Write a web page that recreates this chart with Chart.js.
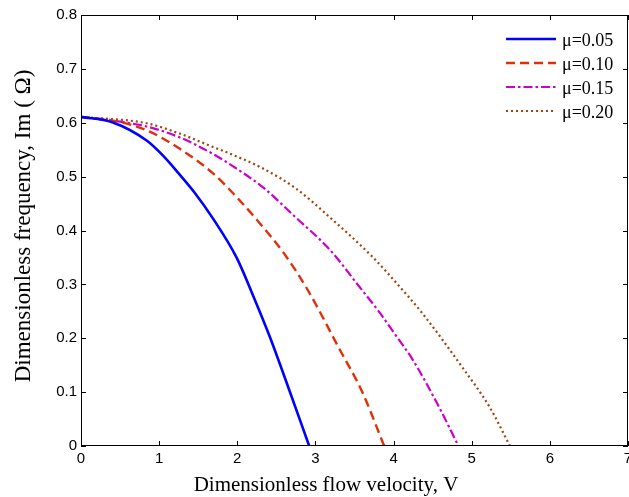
<!DOCTYPE html>
<html>
<head>
<meta charset="utf-8">
<script src="https://cdn.jsdelivr.net/npm/chart.js@4"></script>
<style>
  html, body { margin: 0; padding: 0; background: #fff; }
  #wrap { width: 629px; height: 497px; position: relative; }
</style>
</head>
<body>
<div id="wrap"><canvas id="chart"></canvas></div>
<script>
// values
const legendLabels = ["\u03bc=0.05", "\u03bc=0.10", "\u03bc=0.15", "\u03bc=0.20"];
const xTitle = "Dimensionless flow velocity, V";
const yTitle = "Dimensionless frequency, Im ( \u03a9)";

const vMu005 = [0, 0.4, 0.84, 1.05, 1.25, 1.45, 1.69, 1.99, 2.2, 2.41, 2.65, 2.92];
const imMu005 = [0.611, 0.601, 0.567, 0.539, 0.506, 0.471, 0.422, 0.35, 0.28, 0.205, 0.11, 0];

const vMu010 = [0, 0.41, 0.84, 1.26, 1.69, 2.03, 2.29, 2.6, 2.9, 3.3, 3.6, 3.88];
const imMu010 = [0.611, 0.604, 0.586, 0.552, 0.506, 0.456, 0.413, 0.357, 0.29, 0.182, 0.1, 0];

const vMu015 = [0, 0.84, 1.26, 1.69, 2.0, 2.33, 2.75, 3.18, 3.56, 3.82, 4.0, 4.25, 4.59, 4.83];
const imMu015 = [0.611, 0.593, 0.573, 0.542, 0.514, 0.48, 0.424, 0.365, 0.296, 0.248, 0.211, 0.159, 0.07, 0];

const vMu020 = [0, 0.84, 1.26, 1.69, 1.9, 2.33, 2.75, 3.18, 3.73, 4.07, 4.37, 4.88, 5.23, 5.49];
const imMu020 = [0.611, 0.599, 0.580, 0.555, 0.543, 0.515, 0.478, 0.425, 0.351, 0.297, 0.246, 0.146, 0.072, 0];

const xTicks = [0, 1, 2, 3, 4, 5, 6, 7];
const yTicks = [0, 0.1, 0.2, 0.3, 0.4, 0.5, 0.6, 0.7, 0.8];

function pares(vs, ims) {
  return vs.map((v, i) => ({ x: v, y: ims[i] }));
}

const estilos = [
  { color: "#0000ff", width: 2.6, dash: [] },
  { color: "#e0300a", width: 2.4, dash: [9, 5] },
  { color: "#cc00cc", width: 2.2, dash: [9, 3, 2.5, 3] },
  { color: "#a3430e", width: 2.2, dash: [2, 3] }
];

const series = [
  pares(vMu005, imMu005),
  pares(vMu010, imMu010),
  pares(vMu015, imMu015),
  pares(vMu020, imMu020)
];

const serif = "'Liberation Serif', 'Times New Roman', serif";

// box, inward ticks (matlab style), axis titles and the legend
const caixaPlugin = {
  id: "caixa",
  afterDraw(chart) {
    const { ctx, chartArea: a, scales } = chart;
    ctx.save();
    ctx.strokeStyle = "#000";
    ctx.lineWidth = 1;
    ctx.strokeRect(a.left + 0.5, a.top + 0.5, a.right - a.left - 1, a.bottom - a.top - 1);

    const tl = 5;
    ctx.beginPath();
    xTicks.forEach(t => {
      const px = Math.round(scales.x.getPixelForValue(t)) + 0.5;
      ctx.moveTo(px, a.bottom);
      ctx.lineTo(px, a.bottom - tl);
      ctx.moveTo(px, a.top);
      ctx.lineTo(px, a.top + tl);
    });
    yTicks.forEach(t => {
      const py = Math.round(scales.y.getPixelForValue(t)) + 0.5;
      ctx.moveTo(a.left, py);
      ctx.lineTo(a.left + tl, py);
      ctx.moveTo(a.right, py);
      ctx.lineTo(a.right - tl, py);
    });
    ctx.stroke();

    // axis titles
    ctx.fillStyle = "#000";
    ctx.textAlign = "center";
    ctx.textBaseline = "middle";
    ctx.font = `21px ${serif}`;
    ctx.fillText(xTitle, 326, 485);
    ctx.save();
    ctx.font = `23px ${serif}`;
    ctx.translate(24, 226);
    ctx.rotate(-Math.PI / 2);
    ctx.fillText(yTitle, 0, 0);
    ctx.restore();

    // legend
    const x0 = a.right - 122;
    const x1 = a.right - 72;
    ctx.font = `18px ${serif}`;
    ctx.textAlign = "left";
    legendLabels.forEach((label, i) => {
      const y = a.top + 24 + i * 24;
      const st = estilos[i];
      ctx.beginPath();
      ctx.strokeStyle = st.color;
      ctx.lineWidth = st.width;
      ctx.setLineDash(st.dash);
      ctx.moveTo(x0, y);
      ctx.lineTo(x1, y);
      ctx.stroke();
      ctx.setLineDash([]);
      ctx.fillText(label, x1 + 6, y + 2);
    });
    ctx.restore();
  }
};

const tickFont = { family: "'Liberation Sans', Arial, sans-serif", size: 15 };

new Chart(document.getElementById("chart"), {
  type: "line",
  data: {
    datasets: series.map((dados, i) => ({
      label: legendLabels[i],
      data: dados,
      borderColor: estilos[i].color,
      borderWidth: estilos[i].width,
      borderDash: estilos[i].dash,
      pointRadius: 0,
      cubicInterpolationMode: "monotone",
      fill: false
    }))
  },
  options: {
    responsive: true,
    maintainAspectRatio: false,
    animation: false,
    layout: { padding: { top: 15, right: 1, left: 0, bottom: 0 } },
    plugins: {
      legend: { display: false },
      tooltip: { enabled: false }
    },
    scales: {
      x: {
        type: "linear",
        min: 0,
        max: 7,
        grid: { display: false, tickLength: 4 },
        border: { display: false },
        ticks: {
          stepSize: 1,
          color: "#000",
          font: tickFont,
          padding: 0,
          maxRotation: 0
        },
        afterFit(scale) {
          scale.height = 51;
          scale.paddingLeft = 0;
          scale.paddingRight = 0;
        }
      },
      y: {
        min: 0,
        max: 0.8,
        grid: { display: false, tickLength: 4 },
        border: { display: false },
        ticks: {
          stepSize: 0.1,
          color: "#000",
          font: tickFont,
          padding: 0,
          callback: value => (value === 0 ? "0" : value.toFixed(1))
        },
        afterFit(scale) {
          scale.width = 81;
          scale.paddingTop = 0;
          scale.paddingBottom = 0;
        }
      }
    }
  },
  plugins: [caixaPlugin]
});
</script>
</body>
</html>
